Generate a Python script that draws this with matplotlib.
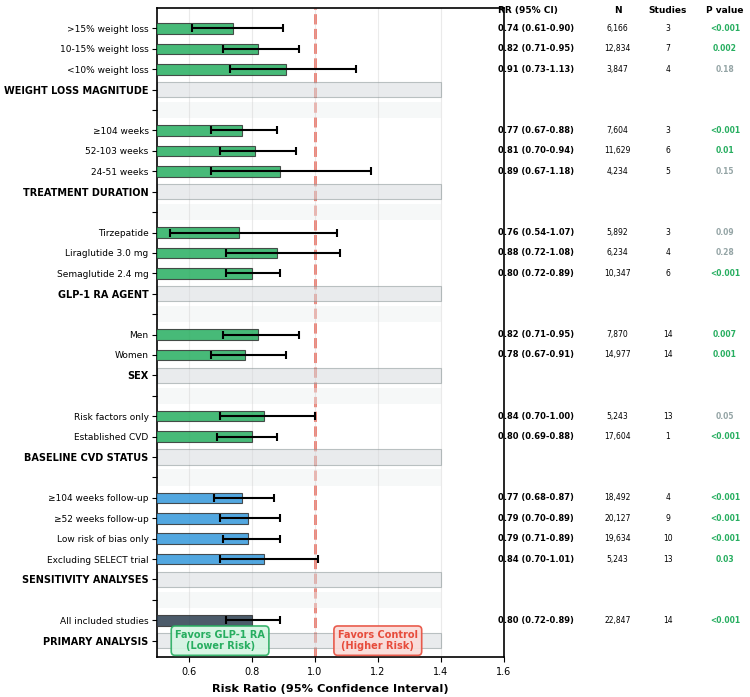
import matplotlib
matplotlib.use("Agg")
import matplotlib.pyplot as plt

# Dati del forest plot (dal basso verso l'alto gruppo per gruppo)
gruppi = ["PRIMARY ANALYSIS", "SENSITIVITY ANALYSES", "BASELINE CVD STATUS",
          "SEX", "GLP-1 RA AGENT", "TREATMENT DURATION", "WEIGHT LOSS MAGNITUDE"]

etichette = [
    ["All included studies"],
    ["Excluding SELECT trial", "Low risk of bias only", "≥52 weeks follow-up", "≥104 weeks follow-up"],
    ["Established CVD", "Risk factors only"],
    ["Women", "Men"],
    ["Semaglutide 2.4 mg", "Liraglutide 3.0 mg", "Tirzepatide"],
    ["24-51 weeks", "52-103 weeks", "≥104 weeks"],
    ["<10% weight loss", "10-15% weight loss", ">15% weight loss"],
]
rr = [
    [0.80],
    [0.84, 0.79, 0.79, 0.77],
    [0.80, 0.84],
    [0.78, 0.82],
    [0.80, 0.88, 0.76],
    [0.89, 0.81, 0.77],
    [0.91, 0.82, 0.74],
]
ci_low = [
    [0.72],
    [0.70, 0.71, 0.70, 0.68],
    [0.69, 0.70],
    [0.67, 0.71],
    [0.72, 0.72, 0.54],
    [0.67, 0.70, 0.67],
    [0.73, 0.71, 0.61],
]
ci_high = [
    [0.89],
    [1.01, 0.89, 0.89, 0.87],
    [0.88, 1.00],
    [0.91, 0.95],
    [0.89, 1.08, 1.07],
    [1.18, 0.94, 0.88],
    [1.13, 0.95, 0.90],
]
n_pazienti = [
    ["22,847"],
    ["5,243", "19,634", "20,127", "18,492"],
    ["17,604", "5,243"],
    ["14,977", "7,870"],
    ["10,347", "6,234", "5,892"],
    ["4,234", "11,629", "7,604"],
    ["3,847", "12,834", "6,166"],
]
n_studi = [
    [14],
    [13, 10, 9, 4],
    [1, 13],
    [14, 14],
    [6, 4, 3],
    [5, 6, 3],
    [4, 7, 3],
]
p_value = [
    ["<0.001"],
    ["0.03", "<0.001", "<0.001", "<0.001"],
    ["<0.001", "0.05"],
    ["0.001", "0.007"],
    ["<0.001", "0.28", "0.09"],
    ["0.15", "0.01", "<0.001"],
    ["0.18", "0.002", "<0.001"],
]
significativo = [
    [True],
    [True, True, True, True],
    [True, False],
    [True, True],
    [True, False, False],
    [False, True, True],
    [False, True, True],
]

# Colori
verde = '#27ae60'
blu = '#3498db'
scuro = '#2c3e50'
rosso = '#e74c3c'
grigio = '#95a5a6'
colori_gruppo = [scuro, blu, verde, verde, verde, verde, verde]

fig = plt.figure(figsize=(7.5, 6.97), dpi=100)
ax = fig.add_axes([0.2093, 0.0574, 0.4627, 0.9311])

# Linea di non effetto
ax.axvline(1.0, color=rosso, linestyle='--', linewidth=2, alpha=0.75, zorder=1)
ax.grid(axis='x', color='#cccccc', alpha=0.4, linewidth=0.8, zorder=0)

posizioni = []
testi = []
header_idx = []
y = 0
for g, nome in enumerate(gruppi):
    # Riga di intestazione del gruppo
    ax.barh(y, 0.9, left=0.5, height=0.75, color='#d5d8dc', alpha=0.5,
            edgecolor='#7f8c8d', linewidth=0.8, zorder=2)
    posizioni.append(y)
    testi.append(nome)
    header_idx.append(len(posizioni) - 1)
    y += 1
    for i, lab in enumerate(etichette[g]):
        r = rr[g][i]
        ax.barh(y, r, height=0.52, color=colori_gruppo[g], alpha=0.85,
                edgecolor='#333333', linewidth=0.8, zorder=3)
        ax.errorbar(r, y, xerr=[[r - ci_low[g][i]], [ci_high[g][i] - r]],
                    fmt='none', ecolor='black', elinewidth=1.5, capsize=3,
                    capthick=1.5, zorder=4)
        # Colonne a destra
        ax.text(1.58, y, f"{r:.2f} ({ci_low[g][i]:.2f}-{ci_high[g][i]:.2f})",
                ha='left', va='center', fontsize=6, fontweight='bold', clip_on=False)
        ax.text(1.96, y, n_pazienti[g][i], ha='center', va='center',
                fontsize=5.5, clip_on=False)
        ax.text(2.12, y, str(n_studi[g][i]), ha='center', va='center',
                fontsize=5.5, clip_on=False)
        ax.text(2.30, y, p_value[g][i], ha='center', va='center', fontsize=5.5,
                fontweight='bold', color=verde if significativo[g][i] else grigio,
                clip_on=False)
        posizioni.append(y)
        testi.append(lab)
        y += 1
    if g < len(gruppi) - 1:
        # Riga vuota di separazione
        ax.barh(y, 0.9, left=0.5, height=0.8, color='#ecf0f1', alpha=0.45,
                linewidth=0, zorder=1.5)
        posizioni.append(y)
        testi.append("")
        y += 1

# Intestazioni colonne
ytop = y - 0.1
ax.text(1.58, ytop, "RR (95% CI)", ha='left', va='center', fontsize=6.5,
        fontweight='bold', clip_on=False)
ax.text(1.96, ytop, "N", ha='center', va='center', fontsize=6.5,
        fontweight='bold', clip_on=False)
ax.text(2.12, ytop, "Studies", ha='center', va='center', fontsize=6.5,
        fontweight='bold', clip_on=False)
ax.text(2.30, ytop, "P value", ha='center', va='center', fontsize=6.5,
        fontweight='bold', clip_on=False)

ax.set_yticks(posizioni)
ax.set_yticklabels(testi, fontsize=6.5)
for k in header_idx:
    lbl = ax.get_yticklabels()[k]
    lbl.set_fontweight('bold')
    lbl.set_fontsize(7)
ax.tick_params(axis='y', pad=2.5)

ax.set_xlim(0.5, 1.6)
ax.set_ylim(-0.8, y)
ax.set_xticks([0.6, 0.8, 1.0, 1.2, 1.4, 1.6])
ax.tick_params(axis='x', labelsize=7)
ax.set_xlabel("Risk Ratio (95% Confidence Interval)", fontsize=8.2,
              fontweight='bold', labelpad=5)

# Riquadri interpretativi
ax.text(0.7, 0, "Favors GLP-1 RA\n(Lower Risk)", ha='center', va='center',
        fontsize=7, fontweight='bold', color=verde, zorder=6,
        bbox=dict(boxstyle='round,pad=0.4', facecolor='#d5f5e3', alpha=0.9,
                  edgecolor=verde, linewidth=1.2))
ax.text(1.2, 0, "Favors Control\n(Higher Risk)", ha='center', va='center',
        fontsize=7, fontweight='bold', color=rosso, zorder=6,
        bbox=dict(boxstyle='round,pad=0.4', facecolor='#fadbd8', alpha=0.9,
                  edgecolor=rosso, linewidth=1.2))

for s in ax.spines.values():
    s.set_linewidth(1.2)

fig.savefig("out.png", dpi=100)
